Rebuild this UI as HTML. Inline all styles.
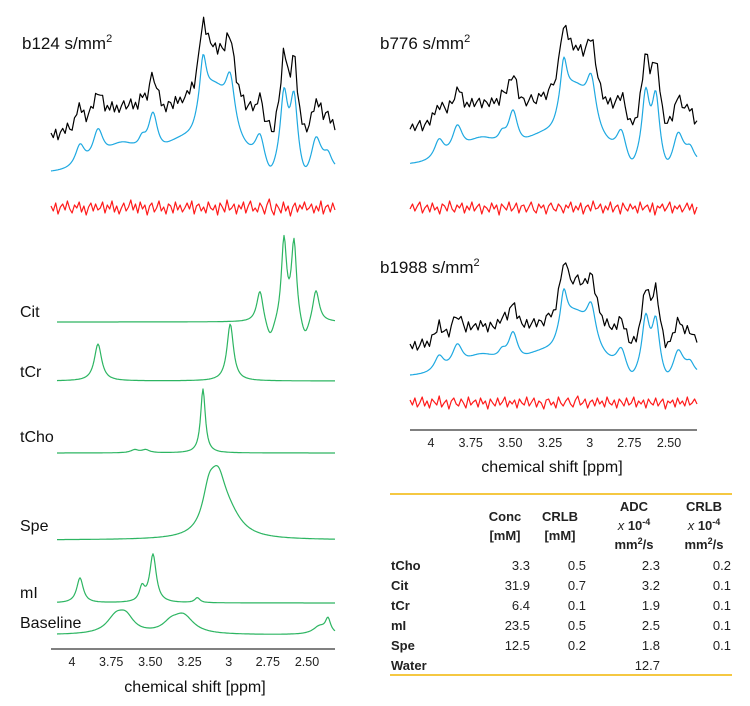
<!DOCTYPE html>
<html><head><meta charset="utf-8">
<style>
body{margin:0;background:#fff;}
svg{display:block;font-family:"Liberation Sans",sans-serif;}
.lbl{font-size:16px;fill:#111;}
.ttl{font-size:17px;fill:#111;}
.tk{font-size:12.5px;fill:#222;}
.th{font-size:13px;font-weight:bold;fill:#222;}
.td{font-size:13px;fill:#222;}
</style></head>
<body>
<svg id="fig" width="750" height="706" viewBox="0 0 750 706">
<g id="plots"></g>
<text class="ttl" x="22" y="49">b124 s/mm<tspan dy="-7" font-size="11">2</tspan></text>
<text class="ttl" x="380" y="49">b776 s/mm<tspan dy="-7" font-size="11">2</tspan></text>
<text class="ttl" x="380" y="273">b1988 s/mm<tspan dy="-7" font-size="11">2</tspan></text>
<text class="lbl" x="20" y="317">Cit</text>
<text class="lbl" x="20" y="377">tCr</text>
<text class="lbl" x="20" y="442">tCho</text>
<text class="lbl" x="20" y="531">Spe</text>
<text class="lbl" x="20" y="598">mI</text>
<text class="lbl" x="20" y="628">Baseline</text>
<text class="lbl" x="195" y="692" text-anchor="middle">chemical shift [ppm]</text>
<text class="lbl" x="552" y="472" text-anchor="middle">chemical shift [ppm]</text>

<g>
<line x1="390" y1="494" x2="732" y2="494" stroke="#f5c842" stroke-width="2"/>
<line x1="390" y1="675" x2="732" y2="675" stroke="#f5c842" stroke-width="2"/>
<text class="th" x="505" y="521" text-anchor="middle">Conc</text>
<text class="th" x="505" y="540" text-anchor="middle">[mM]</text>
<text class="th" x="560" y="521" text-anchor="middle">CRLB</text>
<text class="th" x="560" y="540" text-anchor="middle">[mM]</text>
<text class="th" x="634" y="511" text-anchor="middle">ADC</text>
<text class="th" x="634" y="530" text-anchor="middle"><tspan font-style="italic" font-weight="normal">x</tspan> 10<tspan dy="-5" font-size="9">-4</tspan></text>
<text class="th" x="634" y="549" text-anchor="middle">mm<tspan dy="-5" font-size="9">2</tspan><tspan dy="5">/s</tspan></text>
<text class="th" x="704" y="511" text-anchor="middle">CRLB</text>
<text class="th" x="704" y="530" text-anchor="middle"><tspan font-style="italic" font-weight="normal">x</tspan> 10<tspan dy="-5" font-size="9">-4</tspan></text>
<text class="th" x="704" y="549" text-anchor="middle">mm<tspan dy="-5" font-size="9">2</tspan><tspan dy="5">/s</tspan></text>
<g id="rows"></g>
</g>
</svg>
<script>
// ---- component model data (ppm, amplitude, half-width) ----
const citPpm=[2.80,2.647,2.583,2.443,2.735,2.513];
const citAmp=[33,82,80,33,-20,-20];
const citWid=[0.025,0.02,0.02,0.025,0.035,0.035];
const tcrPpm=[3.834,2.99];
const tcrAmp=[37,57];
const tcrWid=[0.028,0.025];
const tchoPpm=[3.164,3.60,3.53];
const tchoAmp=[64,3,3];
const tchoWid=[0.018,0.03,0.03];
const spePpm=[3.068,3.126,3.0];
const speAmp=[45,35,20];
const speWid=[0.06,0.05,0.1];
const miPpm=[3.949,3.553,3.483,3.20];
const miAmp=[25,14,48,5];
const miWid=[0.025,0.02,0.025,0.02];
const basePpm=[3.72,3.655,3.29,3.37,2.366,2.42];
const baseAmp=[16,14,18,8,14,8];
const baseWid=[0.07,0.06,0.08,0.06,0.02,0.05];
// residual (noise) arrays per b-value
const res124=[2,-3,5,-6,1,4,-2,7,-1,-5,3,0,6,-4,2,-7,1,5,-3,4,-2,0,6,-5,3,-1,7,-4,2,-6,0,5,-3,1,8,-2,4,-5,6,-1,3,-7,2,5,-4,0,7,-3,1,-6,4,2,-5,6,-2,3,-4,0,5,-1,7,-6,2,4,-3,1,-5,6,0,-2,3,-7,5,1,-4,8,-2,0,4,-6,3,-1,6,-5,2,7,-3,0,-4,5,1,-6,3,9,-2,-7,4,0,-5,6,-3,2,-8,1,5,-4,3,-1,6,-2,0,4,-5,2,-3,7,-6,1,3,-4,5,-2];
const res776=[-1,4,-3,2,6,-5,0,3,-4,5,-2,1,-6,4,2,-3,7,-1,-4,3,0,5,-5,2,-2,6,-3,1,4,-6,2,0,-4,5,-1,3,-7,4,1,-2,6,-3,0,5,-5,2,3,-4,1,6,-2,-5,4,0,3,-6,2,5,-1,-3,4,1,-5,3,0,6,-4,2,-2,5,-6,1,3,-3,7,-1,0,4,-5,2,-2,6,-4,1,3,-6,5,0,-3,4,-1,2,-5,6,-2,1,3,-4,5,-7,2,0,4,-3,1,6,-5,2,-1,3,-4,0,5,-2,4,-6,1];
const res1988=[3,-2,5,-4,0,6,-3,2,-5,4,1,-2,7,-4,0,3,-6,2,5,-1,-3,4,0,-5,6,-2,1,3,-4,5,-1,2,-6,4,0,-3,5,-2,1,6,-4,2,-1,3,-5,4,0,-2,6,-3,1,5,-4,2,0,-6,3,4,-2,1,-5,6,0,-3,2,5,-1,-4,3,7,-2,0,4,-5,1,3,-3,5,-1,2,-4,6,0,-2,3,-5,4,1,-3,5,-2,0,6,-4,2,-1,3,-5,4,0,-2,5,-3,1,4,-6,2,0,3,-4,5,-1,2,-3,6,-2,0,4,-1];
// axis ticks
const tickVals=[4,3.75,3.5,3.25,3,2.75,2.5];
const tickLabels=["4","3.75","3.50","3.25","3","2.75","2.50"];
// table data
const rowNames=["tCho","Cit","tCr","mI","Spe","Water"];
const concVals=["3.3","31.9","6.4","23.5","12.5",""];
const crlbVals=["0.5","0.7","0.1","0.5","0.2",""];
const adcVals=["2.3","3.2","1.9","2.5","1.8","12.7"];
const crlb2Vals=["0.2","0.1","0.1","0.1","0.1",""];

const NS="http://www.w3.org/2000/svg";
const plots=document.getElementById('plots');
function lor(p,c,a,w){return a*w*w/((p-c)*(p-c)+w*w);}
function comp(p,P,A,W,f){f=f||1;let s=0;for(let i=0;i<P.length;i++)s+=lor(p,P[i],A[i],W[i]*f);return s;}
const comps=[[citPpm,citAmp,citWid],[tcrPpm,tcrAmp,tcrWid],[tchoPpm,tchoAmp,tchoWid],[spePpm,speAmp,speWid],[miPpm,miAmp,miWid],[basePpm,baseAmp,baseWid]];
const BROAD=1.45;
function total(p){let s=0;comps.forEach(c=>s+=comp(p,c[0],c[1],c[2],BROAD));return s;}
const xL=p=>72+(4-p)*156.67, pL=x=>4-(x-72)/156.67;
const xR=p=>431+(4-p)*158.67, pR=x=>4-(x-431)/158.67;
function path(d,color,name){const e=document.createElementNS(NS,'path');e.setAttribute('d',d);e.setAttribute('fill','none');e.setAttribute('stroke',color);e.setAttribute('stroke-width','1.2');e.setAttribute('stroke-linejoin','round');


plots.appendChild(e);}
function panel(xf,pf,x0,x1,base,k,off,redY,res,tag){
  let d='';for(let x=x0;x<=x1;x+=1){const y=base-k*total(pf(x));d+=(x==x0?'M':'L')+x+' '+y.toFixed(1);}
  path(d,'#1fa9e1',tag+'-fit-line');
  let db='',dr='';const n=res.length;
  for(let i=0;i<n;i++){const x=x0+(x1-x0)*i/(n-1);const y=base-k*total(pf(x))-off-res[i];db+=(i?'L':'M')+x.toFixed(1)+' '+y.toFixed(1);dr+=(i?'L':'M')+x.toFixed(1)+' '+(redY-res[i]).toFixed(1);}
  path(db,'#000',tag+'-data-line');
  path(dr,'#ff1a1a',tag+'-residual-line');
}
panel(xL,pL,51,335,175,0.88,36,208,res124,'b124');
panel(xR,pR,410,697,167,0.8,35,208,res776,'b776');
panel(xR,pR,410,697,378,0.65,28,403,res1988,'b1988');
const compY=[322,381,453,540,603,635];
const compNames=['cit','tcr','tcho','spe','mi','baseline'];
comps.forEach((c,j)=>{let d='';for(let x=57;x<=335;x++){const y=compY[j]-comp(pL(x),c[0],c[1],c[2]);d+=(x==57?'M':'L')+x+' '+y.toFixed(1);}path(d,'#2db562',compNames[j]+'-component-line');});
function axis(xf,x0,x1,y,tag){
  const l=document.createElementNS(NS,'line');l.setAttribute('x1',x0);l.setAttribute('x2',x1);l.setAttribute('y1',y);l.setAttribute('y2',y);l.setAttribute('stroke','#000');l.setAttribute('stroke-width','1');
  
  
  plots.appendChild(l);
  tickVals.forEach((v,i)=>{const t=document.createElementNS(NS,'text');t.setAttribute('x',xf(v).toFixed(1));t.setAttribute('y',y+17);t.setAttribute('text-anchor','middle');t.setAttribute('class','tk');t.textContent=tickLabels[i];
  
  
  plots.appendChild(t);});
}
axis(xL,51,335,649,'left');
axis(xR,410,697,430,'right');
const rows=document.getElementById('rows');
const colX=[530,586,660,731];
rowNames.forEach((nm,i)=>{const y=570+i*20;
  const t=document.createElementNS(NS,'text');t.setAttribute('x',391);t.setAttribute('y',y);t.setAttribute('class','th');t.textContent=nm;
  
  
  rows.appendChild(t);
  [concVals,crlbVals,adcVals,crlb2Vals].forEach((arr,j)=>{if(!arr[i])return;const c=document.createElementNS(NS,'text');c.setAttribute('x',colX[j]);c.setAttribute('y',y);c.setAttribute('text-anchor','end');c.setAttribute('class','td');c.textContent=arr[i];
  
  
  rows.appendChild(c);});
});
</script>
</body></html>
